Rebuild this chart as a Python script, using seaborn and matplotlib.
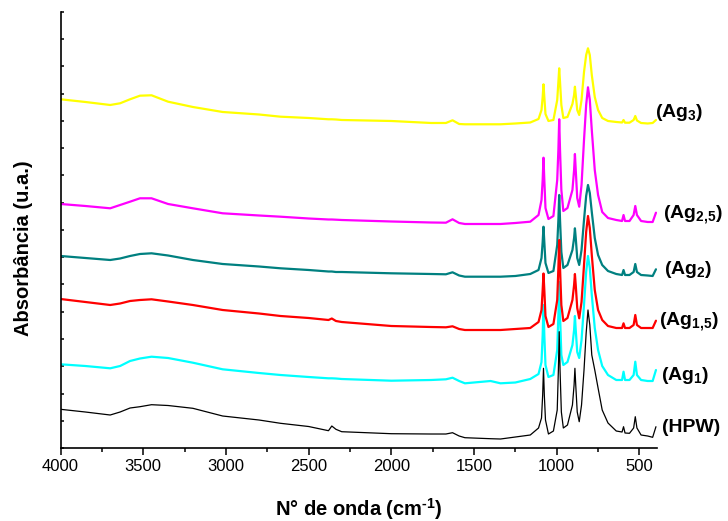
import numpy as np
import pandas as pd
import seaborn as sns
import matplotlib.pyplot as plt

wavenumber = [4000, 3850, 3700, 3640, 3580, 3520, 3450, 3350, 3200, 3020,
              2800, 2670, 2500, 2380, 2360, 2335, 2300, 2000, 1760, 1670,
              1630, 1590, 1555, 1400, 1340, 1250, 1160, 1110, 1092, 1085,
              1080, 1075, 1068, 1050, 1020, 997, 990, 985, 980, 972,
              960, 935, 905, 895, 890, 885, 876, 864, 850, 835,
              822, 811, 800, 788, 770, 750, 725, 690, 640, 605,
              596, 587, 560, 535, 525, 515, 490, 450, 420, 400]

# absorbance (arbitrary units, already stacked)
hpw = [38.7, 36, 33, 36, 40, 41.3, 43.3, 42.5, 39.7, 32,
       28, 24.7, 21.5, 17.3, 22, 18.7, 16.3, 14.3, 14, 14,
       15.3, 12, 10.3, 9.3, 9, 11, 13, 20, 30, 53,
       79.7, 53, 28, 14, 17, 38, 78, 116.3, 78, 36,
       20, 23, 43, 63, 79.7, 63, 36, 26.3, 43, 78,
       115, 138, 123, 93, 78, 60, 38, 25, 17, 16,
       21.3, 15, 14.7, 20, 31.3, 20, 13, 12, 10.7, 21.3]

ag1 = [83.7, 82, 79.7, 82, 87, 89.5, 91.3, 90, 85.3, 78.7,
       75, 73, 71, 69.7, 69.7, 69.5, 69, 67.3, 68, 68.7,
       70.3, 67, 64.7, 67, 64.7, 65.5, 69, 74, 86, 113,
       143, 113, 83, 71, 73, 98, 133, 166, 133, 93,
       83, 86, 103, 118, 132, 118, 96, 90, 108, 143,
       176, 192, 180, 153, 120, 98, 82, 73, 68, 68,
       76.3, 68, 68, 73, 86.3, 73, 68, 67, 67, 78]

ag15 = [149, 146, 143, 144.5, 147, 148, 148.7, 146.5, 143, 138,
        134.5, 132, 130, 128, 129.5, 127, 126, 122, 121, 120.7,
        121.7, 119, 118, 118, 118, 119, 120, 126, 138, 158,
        174.5, 158, 132, 121, 124, 148, 180, 208, 180, 143,
        127, 130, 148, 163, 174, 163, 140, 129.7, 146, 183,
        216, 232, 220, 193, 158, 138, 128, 122, 120, 120,
        124.7, 120, 120, 123, 133, 123, 120, 120, 120, 127.3]

ag2 = [192, 190, 188, 189.5, 192, 194, 194.7, 192.5, 188, 184,
       181.5, 179.7, 178, 176.5, 176.5, 176, 176, 174.7, 174, 173.7,
       175.7, 172.5, 171.3, 171.3, 171.3, 172, 174, 178, 190, 206,
       221.3, 206, 185, 175, 177, 203, 228, 253, 228, 196,
       180, 183, 198, 210, 219.7, 210, 190, 183, 198, 228,
       252, 263, 255, 236, 210, 193, 183, 177, 174, 173,
       178, 173, 173, 176, 184, 176, 173, 172.5, 172, 178.7]

ag25 = [244, 242, 239.7, 243, 246.3, 249.7, 249.7, 244, 239.7, 234.7,
        232.5, 231.3, 229.5, 228.5, 228.5, 228.3, 228, 226.5, 225.5, 225.3,
        228.7, 225, 224, 224, 224, 225, 226.3, 233, 248, 268,
        290.3, 268, 240, 229, 232, 268, 298, 328.7, 298, 258,
        237, 240, 258, 278, 294, 278, 250, 241.3, 263, 308,
        343, 360.7, 348, 318, 278, 253, 236, 230, 228, 227,
        233, 227, 227, 233, 242, 233, 227, 226, 226, 235.3]

ag3 = [348.7, 346, 343, 344.7, 348.7, 352.3, 352.7, 346.3, 341, 336,
       333.5, 331.3, 330, 328.7, 328.7, 328.5, 328, 327, 325, 325,
       327.7, 324, 323.7, 323.7, 323.7, 324.5, 325.5, 329, 338, 351,
       363.7, 351, 334, 327, 328, 348, 366, 379.7, 366, 343,
       330, 331, 344, 353, 361.3, 353, 338, 333, 348, 376,
       393, 399.7, 393, 373, 351, 338, 330, 327, 326, 325.5,
       328, 325.3, 325.3, 328, 332, 327.5, 325, 324.5, 325, 328]

# drawing order: yellow first, black last
series_names = ["(Ag$_3$)", "(Ag$_{2{,}5}$)", "(Ag$_2$)", "(Ag$_1$)", "(Ag$_{1{,}5}$)", "(HPW)"]
series_values = [ag3, ag25, ag2, ag1, ag15, hpw]
series_colors = ["#FFFF00", "#FF00FF", "#008080", "#00FFFF", "#FF0000", "#000000"]
series_widths = [1.6, 1.6, 1.6, 1.6, 1.6, 0.9]
# vertical position of the right-hand labels (same units as absorbance)
label_y = [335, 233, 178, 73, 126, 21]
label_x = [0.997, 1.010, 1.012, 1.006, 1.004, 1.008]

df = pd.DataFrame({"wn": wavenumber * 6,
                   "absorb": sum(series_values, []),
                   "sample": np.repeat(series_names, len(wavenumber))})

sns.set_style("ticks")
plt.rcParams["font.family"] = ["Liberation Sans", "DejaVu Sans"]
plt.rcParams["mathtext.fontset"] = "custom"
plt.rcParams["mathtext.rm"] = "Liberation Sans:bold"
plt.rcParams["mathtext.bf"] = "Liberation Sans:bold"
plt.rcParams["mathtext.it"] = "Liberation Sans:bold"
plt.rcParams["mathtext.default"] = "bf"
plt.rcParams["axes.unicode_minus"] = False
plt.rcParams["text.color"] = "black"
plt.rcParams["axes.labelcolor"] = "black"
plt.rcParams["xtick.color"] = "black"
plt.rcParams["ytick.color"] = "black"

fig = plt.figure(figsize=(7.28, 5.21), dpi=100)
ax = fig.add_axes([0.0832, 0.1401, 0.8192, 0.8369])

for name, color, lw in zip(series_names, series_colors, series_widths):
    sns.lineplot(data=df[df["sample"] == name], x="wn", y="absorb",
                 color=color, linewidth=lw, estimator=None, sort=True,
                 ax=ax, legend=False)

for name, lx, ly in zip(series_names, label_x, label_y):
    ax.text(lx, ly, name, transform=ax.get_yaxis_transform(),
            fontsize=14, fontweight="bold", va="center", ha="left",
            color="black", clip_on=False)

ax.set_xlim(4000, 394)
ax.set_ylim(0, 436)
ax.set_xticks(np.arange(4000, 499, -500))
ax.set_xticks(np.arange(3750, 499, -500), minor=True)
ax.set_yticks(np.linspace(0, 436, 17))
ax.set_yticklabels([])
ax.tick_params(axis="x", which="major", direction="out", length=5, width=1.1,
               labelsize=12, pad=3, color="black", labelcolor="black")
ax.tick_params(axis="x", which="minor", direction="out", length=3, width=1.1,
               color="black")
ax.tick_params(axis="y", direction="in", length=2.2, width=1.1, color="black")

for side in ["top", "right"]:
    ax.spines[side].set_visible(False)
for side in ["left", "bottom"]:
    ax.spines[side].set_linewidth(1.2)
    ax.spines[side].set_color("black")

ax.set_xlabel("N° de onda (cm$^{\\text{-1}}$)", fontsize=14.5, fontweight="bold", va="top")
ax.set_ylabel("Absorbância (u.a.)", fontsize=14.5, fontweight="bold")
ax.xaxis.set_label_coords(0.501, -0.11)
ax.yaxis.set_label_coords(-0.046, 0.458)

plt.savefig("out.png", dpi=100)
